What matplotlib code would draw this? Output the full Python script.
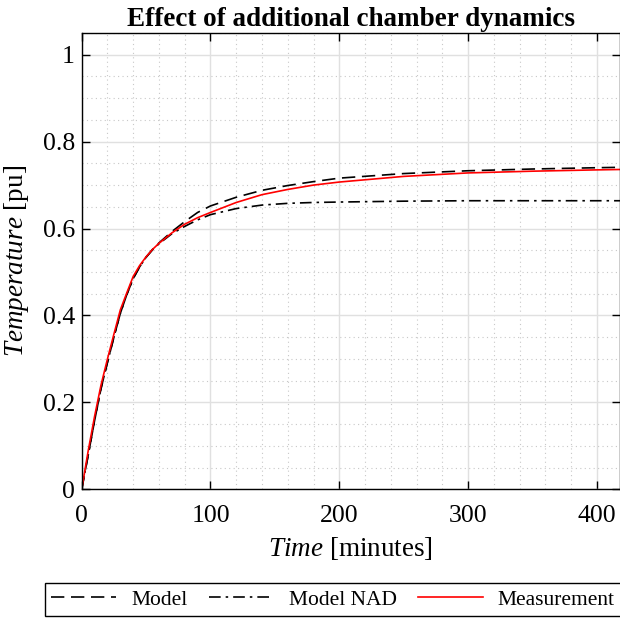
import matplotlib
matplotlib.use("Agg")
import matplotlib.pyplot as plt
from matplotlib.ticker import MultipleLocator

plt.rcParams["font.family"] = ["Liberation Serif", "DejaVu Serif"]
plt.rcParams["mathtext.fontset"] = "custom"
plt.rcParams["mathtext.rm"] = "Liberation Serif"
plt.rcParams["mathtext.it"] = "Liberation Serif:italic"

# time axis [minutes]
time = [0, 5, 10, 15, 20, 25, 30, 35, 40, 45, 50, 55, 60, 70, 80, 90, 100,
        120, 140, 160, 180, 200, 250, 300, 350, 400, 420]

# measured temperature [pu]
measurement = [0, 0.088, 0.168, 0.24, 0.30, 0.357, 0.413, 0.452, 0.49, 0.515, 0.535,
               0.552, 0.566, 0.59, 0.61, 0.625, 0.637, 0.66, 0.678, 0.69, 0.70, 0.707,
               0.72, 0.728, 0.732, 0.735, 0.736]

# model with additional chamber dynamics
model = [0, 0.078, 0.158, 0.232, 0.292, 0.35, 0.405, 0.448, 0.485, 0.512, 0.534,
         0.552, 0.567, 0.593, 0.616, 0.637, 0.652, 0.672, 0.688, 0.699, 0.708, 0.716,
         0.7265, 0.733, 0.737, 0.740, 0.741]

# model without additional dynamics
model_nad = [0, 0.078, 0.158, 0.232, 0.292, 0.35, 0.405, 0.448, 0.485, 0.512, 0.534,
             0.551, 0.565, 0.588, 0.605, 0.62, 0.632, 0.646, 0.654, 0.658, 0.660, 0.661,
             0.663, 0.664, 0.664, 0.664, 0.664]

fig = plt.figure(figsize=(6.2, 6.18), dpi=100)
ax = fig.add_axes([0.1318, 0.2083, 0.8682, 0.7383])

ax.plot(time, model, color="black", lw=1.2, dashes=(8, 4), label="Model")
ax.plot(time, model_nad, color="black", lw=1.2, dashes=(7, 3, 1.5, 3), label="Model NAD")
ax.plot(time, measurement, color="red", lw=1.2, label="Measurement")

ax.set_xlim(0, 418)
ax.set_ylim(0, 1.05)
ax.xaxis.set_major_locator(MultipleLocator(100))
ax.xaxis.set_minor_locator(MultipleLocator(20))
ax.yaxis.set_major_locator(MultipleLocator(0.2))
ax.yaxis.set_minor_locator(MultipleLocator(0.05))
ax.set_yticks([0, 0.2, 0.4, 0.6, 0.8, 1.0])
ax.set_yticklabels(["0", "0.2", "0.4", "0.6", "0.8", "1"])

ax.grid(which="major", color="#e0e0e0", lw=1.0, ls="-")
ax.grid(which="minor", color="#c8c8c8", lw=0.8, ls=(0, (1, 3)))
ax.set_axisbelow(True)

ax.tick_params(which="major", direction="in", length=6, width=1, top=True, right=True,
               labelsize=18.5)
ax.tick_params(axis="x", pad=11)
ax.tick_params(axis="y", pad=5)
ax.tick_params(which="minor", length=0)
for s in ax.spines.values():
    s.set_linewidth(1.0)

ax.set_xlabel(r"$\mathit{Time}$ [minutes]", fontsize=19.5, labelpad=6)
ax.set_ylabel(r"$\mathit{Temperature}$ [pu]", fontsize=19.5, labelpad=8)
ax.set_title("Effect of additional chamber dynamics", fontsize=19.5, fontweight="bold", pad=5)

leg = fig.legend(loc="lower left", bbox_to_anchor=(45 / 620, 2 / 618), ncol=3,
                 fontsize=15.5, frameon=True, fancybox=False, edgecolor="black",
                 framealpha=1, handlelength=3.0, handletextpad=0.7, columnspacing=1.0,
                 borderpad=0.3, borderaxespad=0)
leg.get_frame().set_linewidth(1.0)

fig.savefig("out.png", dpi=100)
